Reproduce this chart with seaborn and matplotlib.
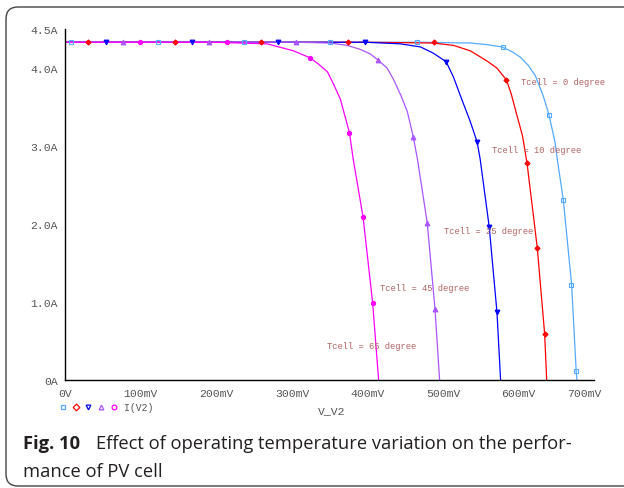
import matplotlib
matplotlib.use("Agg")
import matplotlib.pyplot as plt
import seaborn as sns
import pandas as pd
from matplotlib.patches import FancyBboxPatch
from matplotlib.lines import Line2D
from matplotlib.transforms import ScaledTranslation, IdentityTransform

# ---------------- data ----------------
temps = ["0", "10", "25", "45", "65"]
labels = ["Tcell = 0 degree", "Tcell = 10 degree", "Tcell = 25 degree",
          "Tcell = 45 degree", "Tcell = 65 degree"]

# curves: voltage in mV, current in A
V0 = [0, 100, 200, 300, 400, 470, 536, 557.9, 578, 591, 602, 613, 622, 632.5, 640, 648, 651, 659, 670, 676, 677]
I0 = [4.33, 4.33, 4.33, 4.33, 4.33, 4.33, 4.32, 4.30, 4.27, 4.21, 4.14, 4.03, 3.90, 3.64, 3.40, 3.05, 2.83, 2.31, 1.22, 0.12, 0.0]

V10 = [0, 100, 200, 300, 400, 487, 513.8, 536, 558, 571, 583.6, 590, 595.5, 605, 611, 624.6, 634.3, 637]
I10 = [4.33, 4.33, 4.33, 4.33, 4.33, 4.32, 4.29, 4.22, 4.09, 4.00, 3.85, 3.67, 3.47, 3.13, 2.78, 1.69, 0.59, 0.0]

V25 = [0, 100, 200, 300, 397, 443, 470, 487, 504, 513.8, 523, 536, 545, 549, 561, 571.2, 576]
I25 = [4.33, 4.33, 4.33, 4.33, 4.33, 4.31, 4.27, 4.19, 4.08, 3.88, 3.64, 3.31, 3.05, 2.83, 1.96, 0.87, 0.0]

V45 = [0, 100, 200, 305.7, 351, 372.8, 390, 403.6, 414, 425.7, 434, 444, 452.6, 460.5, 466, 479, 489.2, 495.3]
I45 = [4.33, 4.33, 4.33, 4.33, 4.32, 4.29, 4.24, 4.18, 4.10, 4.00, 3.86, 3.65, 3.44, 3.115, 2.83, 2.01, 0.91, 0.0]

V65 = [0, 100, 200, 230, 267, 302, 324, 335, 347, 355.6, 364, 376, 381, 394, 406.7, 414.6]
I65 = [4.33, 4.33, 4.33, 4.32, 4.31, 4.22, 4.13, 4.05, 3.95, 3.78, 3.60, 3.17, 2.83, 2.09, 0.99, 0.0]

# marker positions
M0_V = [7.5, 122.7, 236.5, 350.3, 465.4, 579.4, 640.3, 658.8, 669.4, 676]
M0_I = [4.33, 4.33, 4.33, 4.33, 4.33, 4.27, 3.40, 2.31, 1.22, 0.12]
M10_V = [30, 145, 259, 374, 488, 583.6, 611, 624.6, 634.3]
M10_I = [4.33, 4.33, 4.33, 4.33, 4.33, 3.85, 2.78, 1.69, 0.59]
M25_V = [54, 168, 281, 396.6, 504, 545, 561, 571.2]
M25_I = [4.33, 4.33, 4.33, 4.33, 4.08, 3.05, 1.96, 0.87]
M45_V = [76.5, 190, 305.3, 414, 460.5, 479, 489.2]
M45_I = [4.33, 4.33, 4.33, 4.10, 3.115, 2.01, 0.91]
M65_V = [98.9, 214, 324, 376, 394, 406.7]
M65_I = [4.33, 4.33, 4.13, 3.17, 2.09, 0.99]

# label anchor positions (mV, A)
label_V = [603.4, 565, 501.5, 416.8, 346.7]
label_I = [3.833, 2.96, 1.92, 1.18, 0.436]

xticks = [0, 100, 200, 300, 400, 500, 600, 700]
xtick_labels = ["0V", "100mV", "200mV", "300mV", "400mV", "500mV", "600mV", "700mV"]
yticks = [0, 1, 2, 3, 4, 4.5]
ytick_labels = ["0A", "1.0A", "2.0A", "3.0A", "4.0A", "4.5A"]

x_label = "V_V2"
legend_label = "I(V2)"
caption_bold = "Fig. 10"
caption_line1 = "Effect of operating temperature variation on the perfor-"
caption_line2 = "mance of PV cell"

# ---------------- styling ----------------
colors = ["#55AAFF", "#FF0000", "#0000FF", "#AA55FF", "#FF00FF"]
markers = ["s", "D", "v", "^", "o"]
mfcs = ["none", "#FF0000", "#0000FF", "#AA55FF", "#FF00FF"]
msizes = [3.2, 2.6, 3.4, 3.4, 3.0]

sns.set_style("white")
plt.rcParams["font.family"] = ["Liberation Mono", "DejaVu Sans Mono"]
MONO = ["Liberation Mono", "DejaVu Sans Mono"]
CAP = ["Open Sans", "DejaVu Sans"]

rows = []
for t, V, I in zip(temps, [V0, V10, V25, V45, V65], [I0, I10, I25, I45, I65]):
    for v, i in zip(V, I):
        rows.append((v, i, t))
df = pd.DataFrame(rows, columns=["V_mV", "I_A", "Tcell"])

W, H = 624, 489
fig = plt.figure(figsize=(W / 100, H / 100), dpi=100)
ax = fig.add_axes([65.3 / W, 1 - 381 / H, 529 / W, 351 / H])

sns.lineplot(data=df, x="V_mV", y="I_A", hue="Tcell", hue_order=temps,
             palette=dict(zip(temps, colors)), sort=False, estimator=None,
             linewidth=0.9, legend=False, ax=ax)

for mv, mi, c, m, fc, ms in zip([M0_V, M10_V, M25_V, M45_V, M65_V],
                                [M0_I, M10_I, M25_I, M45_I, M65_I],
                                colors, markers, mfcs, msizes):
    ax.plot(mv, mi, ls="none", marker=m, ms=ms, mec=c, mfc=fc, mew=0.8,
            clip_on=False, zorder=5)

for s, xv, yv in zip(labels, label_V, label_I):
    ax.text(xv, yv, s, fontsize=6.3, color="#B06464", family=MONO,
            ha="left", va="center", zorder=6)

ax.set_xlim(0, 700)
ax.set_ylim(0, 4.5)
ax.set_xticks(xticks)
ax.set_xticklabels(xtick_labels)
ax.set_yticks(yticks)
ax.set_yticklabels(ytick_labels)
ax.set_xlabel("")
ax.set_ylabel("")
sns.despine(ax=ax)
for sp in ["left", "bottom"]:
    ax.spines[sp].set_color("black")
    ax.spines[sp].set_linewidth(1.0)
ax.tick_params(axis="both", direction="out", length=3.5, width=1.0,
               color="black", labelcolor="#555555", labelsize=8.2, pad=2)
for lab in ax.get_xticklabels() + ax.get_yticklabels():
    lab.set_family(MONO)
# last x tick label is shifted left in the reference
last = ax.get_xticklabels()[-1]
last.set_transform(last.get_transform() + ScaledTranslation(-10 / 100, 0, fig.dpi_scale_trans))

# x-axis caption
fig.text(332 / W, 1 - 411 / H, x_label, fontsize=8.2, color="#555555",
         family=MONO, ha="center", va="center")

# legend row of markers
lx = [63, 76, 88, 101, 114]
for x, c, m in zip(lx, colors, markers):
    fig.add_artist(Line2D([x], [H - 408], transform=IdentityTransform(), ls="none",
                          marker=m, ms=3.4, mec=c, mfc="none", mew=0.9))
fig.text(124 / W, 1 - 408 / H, legend_label, fontsize=7, color="#555555",
         family=MONO, ha="left", va="center")

# outer rounded frame
frame = FancyBboxPatch((6, 2), 640, 479, boxstyle="round,pad=0,rounding_size=12",
                       transform=IdentityTransform(), fill=False, ec="#444444", lw=1.0)
fig.add_artist(frame)

# caption
fig.canvas.draw()
renderer = fig.canvas.get_renderer()
t2 = fig.text(23 / W, 1 - 477 / H, caption_line2, fontsize=10, family=CAP,
              color="#231F20", va="baseline", ha="left")
w2 = t2.get_window_extent(renderer).width
csize = 10 * 139 / w2
t2.set_fontsize(csize)
fig.text(23 / W, 1 - 449 / H, caption_bold, fontsize=csize, family=CAP,
         fontweight="bold", color="#231F20", va="baseline", ha="left")
fig.text(96 / W, 1 - 449 / H, caption_line1, fontsize=csize, family=CAP,
         color="#231F20", va="baseline", ha="left")

fig.savefig("out.png", dpi=100)
